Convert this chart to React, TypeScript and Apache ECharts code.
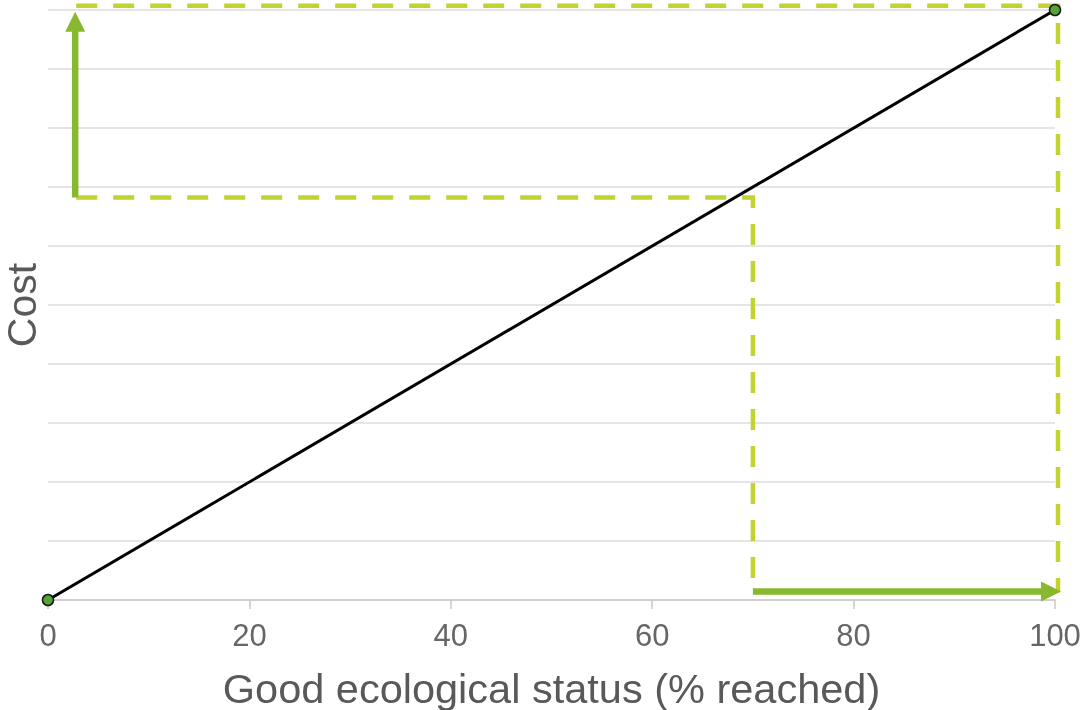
import React, { useEffect, useRef } from "react";
import * as echarts from "echarts";

const xTicks = [0, 20, 40, 60, 80, 100];
const costLine: [number, number][] = [
  [0, 0],
  [100, 100],
];
const innerDashed: [number, number][] = [
  [2.8, 68.2],
  [70, 68.2],
  [70, 1.3],
];
const outerDashed: [number, number][] = [
  [2.8, 100.7],
  [100.3, 100.7],
  [100.3, 1.3],
];
// arrow: start of shaft, tip
const upArrow: [number, number][] = [
  [2.7, 68.2],
  [2.7, 99.7],
];
const rightArrow: [number, number][] = [
  [70, 1.45],
  [100.6, 1.45],
];

export default function App() {
  const ref = useRef<HTMLDivElement>(null);
  useEffect(() => {
    if (!ref.current) return;
    const chart = echarts.init(ref.current, null, { renderer: "svg" });
    const font = "'Liberation Sans', Arial, sans-serif";
    const arrowColor = "#87b82e";
    const dashColor = "#c2d22f";

    const dashedSeries = (pts: [number, number][]) => ({
      type: "custom",
      coordinateSystem: "cartesian2d",
      clip: false,
      silent: true,
      data: pts,
      renderItem: (params: any, api: any) => {
        if (params.dataIndex !== 0) return null;
        return {
          type: "polyline",
          shape: { points: pts.map((p) => api.coord(p)) },
          style: {
            stroke: dashColor,
            lineWidth: 4.5,
            lineDash: [21, 16],
            fill: "none",
          },
        };
      },
      z: 2,
    });

    const arrowSeries = (pts: [number, number][]) => ({
      type: "custom",
      coordinateSystem: "cartesian2d",
      clip: false,
      silent: true,
      data: pts,
      renderItem: (params: any, api: any) => {
        if (params.dataIndex !== 0) return null;
        const a = api.coord(pts[0]);
        const b = api.coord(pts[1]);
        const dx = b[0] - a[0];
        const dy = b[1] - a[1];
        const len = Math.sqrt(dx * dx + dy * dy);
        const ux = dx / len;
        const uy = dy / len;
        const headLen = 20;
        const headHalf = 10;
        const base = [b[0] - ux * headLen, b[1] - uy * headLen];
        const px = -uy;
        const py = ux;
        return {
          type: "group",
          children: [
            {
              type: "line",
              shape: {
                x1: a[0],
                y1: a[1],
                x2: base[0] + ux * 2,
                y2: base[1] + uy * 2,
              },
              style: { stroke: arrowColor, lineWidth: 6.5 },
            },
            {
              type: "polygon",
              shape: {
                points: [
                  b,
                  [base[0] + px * headHalf, base[1] + py * headHalf],
                  [base[0] - px * headHalf, base[1] - py * headHalf],
                ],
              },
              style: { fill: arrowColor },
            },
          ],
        };
      },
      z: 3,
    });

    chart.setOption({
      animation: false,
      grid: {
        left: 48,
        right: 27,
        top: 10,
        bottom: 110,
        containLabel: false,
        outerBoundsMode: "none",
      },
      xAxis: {
        type: "value",
        min: xTicks[0],
        max: xTicks[xTicks.length - 1],
        interval: 20,
        name: "Good ecological status (% reached)",
        nameLocation: "middle",
        nameGap: 70,
        nameTextStyle: {
          fontSize: 41.5,
          lineHeight: 36,
          color: "#595959",
          fontFamily: font,
        },
        axisLine: { lineStyle: { color: "#c8c8c8", width: 1.5 } },
        axisTick: { show: true, length: 9, lineStyle: { color: "#c8c8c8", width: 1.5 } },
        axisLabel: { fontSize: 31, color: "#666666", fontFamily: font, margin: 20 },
        splitLine: { show: false },
      },
      yAxis: {
        type: "value",
        min: 0,
        max: 100,
        interval: 10,
        name: "Cost",
        nameLocation: "middle",
        nameGap: 7,
        nameTextStyle: {
          fontSize: 41,
          lineHeight: 38,
          color: "#595959",
          fontFamily: font,
        },
        axisLine: { show: false },
        axisTick: { show: false },
        axisLabel: { show: false },
        splitLine: { lineStyle: { color: "#dcdcdc", width: 1.5 } },
      },
      series: [
        dashedSeries(outerDashed),
        dashedSeries(innerDashed),
        arrowSeries(upArrow),
        arrowSeries(rightArrow),
        {
          type: "line",
          data: costLine,
          clip: false,
          symbol: "circle",
          symbolSize: 11,
          itemStyle: { color: "#55a437", borderColor: "#1a1a1a", borderWidth: 1.5 },
          lineStyle: { color: "#000000", width: 3 },
          z: 5,
        },
      ],
    });
    return () => chart.dispose();
  }, []);
  return (
    <div
      ref={ref}
      style={{ position: "fixed", left: 0, top: 0, width: 1082, height: 710 }}
    />
  );
}
